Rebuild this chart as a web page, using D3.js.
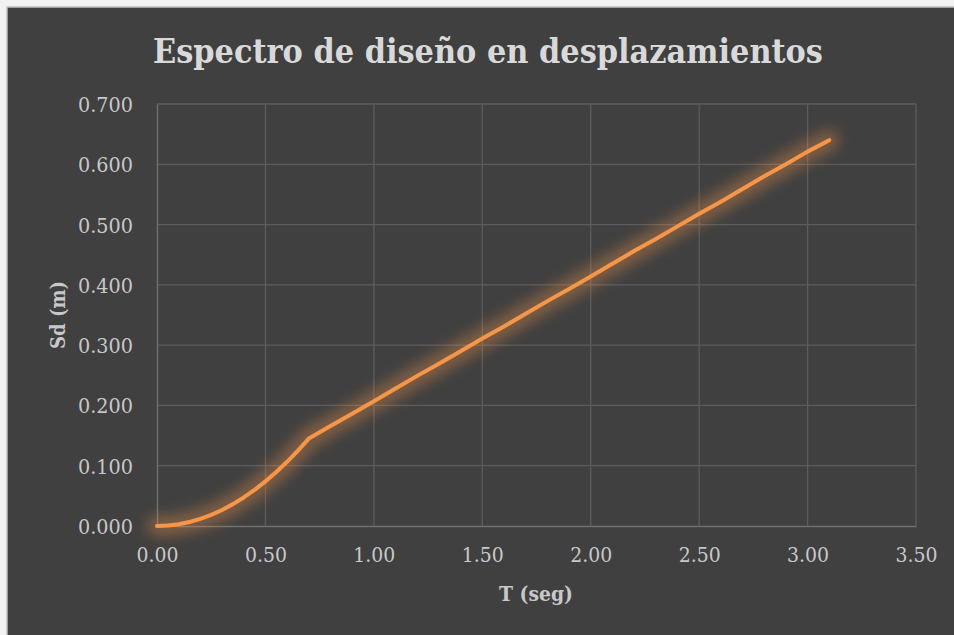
<!DOCTYPE html>
<html><head><meta charset="utf-8">
<script src="https://cdn.jsdelivr.net/npm/d3@7/dist/d3.min.js"></script>
<style>html,body{margin:0;padding:0;background:#f2f2f2;overflow:hidden}</style>
</head><body>
<svg id="c" width="954" height="635"></svg>
<script>
const titleText = "Espectro de diseño en desplazamientos";
const xLabel = "T (seg)";
const yLabel = "Sd (m)";
const xTicks = [0, 0.5, 1.0, 1.5, 2.0, 2.5, 3.0, 3.5];
const yTicks = [0, 0.1, 0.2, 0.3, 0.4, 0.5, 0.6, 0.7];
const periodT = [0, 0.05, 0.10, 0.15, 0.20, 0.25, 0.30, 0.35, 0.40, 0.45, 0.50, 0.55, 0.60, 0.65, 0.70,
  0.80, 0.90, 1.00, 1.10, 1.20, 1.30, 1.40, 1.50, 1.60, 1.70, 1.80, 1.90, 2.00,
  2.10, 2.20, 2.30, 2.40, 2.50, 2.60, 2.70, 2.80, 2.90, 3.00, 3.10];
const sd = [0, 0.0007, 0.0030, 0.0067, 0.0118, 0.0185, 0.0266, 0.0363, 0.0473, 0.0599, 0.0740, 0.0895, 0.1065, 0.1250, 0.1450,
  0.166, 0.186, 0.207, 0.228, 0.249, 0.269, 0.290, 0.311, 0.331, 0.352, 0.373, 0.393, 0.414,
  0.435, 0.456, 0.476, 0.497, 0.518, 0.538, 0.559, 0.580, 0.600, 0.621, 0.640];

const FONT = "'DejaVu Serif', 'Liberation Serif', serif";
const svg = d3.select("#c");
const W = 954, H = 635;
svg.append("rect").attr("x",0).attr("y",0).attr("width",W).attr("height",H).attr("fill","#f2f2f2");
svg.append("rect").attr("x",7).attr("y",7).attr("width",W+10).attr("height",H+10)
  .attr("fill","#404040").attr("stroke","#bfbfbf").attr("stroke-width",1.5);

const m = {l:157, r:916, t:104, b:526};
const x = d3.scaleLinear().domain([0,3.5]).range([m.l,m.r]);
const y = d3.scaleLinear().domain([0,0.7]).range([m.b,m.t]);

const defs = svg.append("defs");
const f = defs.append("filter").attr("id","glow").attr("x","-20%").attr("y","-20%").attr("width","140%").attr("height","140%");
f.append("feGaussianBlur").attr("stdDeviation",7);

// gridlines
const grid = svg.append("g");
grid.selectAll("line.v").data(xTicks.slice(1)).join("line")
  .attr("x1",d=>x(d)).attr("x2",d=>x(d)).attr("y1",m.t).attr("y2",m.b)
  .attr("stroke","#5c5c5c").attr("stroke-width",1.3);
grid.selectAll("line.h").data(yTicks.slice(1)).join("line")
  .attr("x1",m.l).attr("x2",m.r).attr("y1",d=>y(d)).attr("y2",d=>y(d))
  .attr("stroke","#5c5c5c").attr("stroke-width",1.3);

// axes
const xAxis = d3.axisBottom(x).tickValues(xTicks).tickFormat(d3.format(".2f")).tickSize(0).tickPadding(21);
const yAxis = d3.axisLeft(y).tickValues(yTicks).tickFormat(d3.format(".3f")).tickSize(0).tickPadding(24);
const gx = svg.append("g").attr("transform",`translate(0,${m.b})`).call(xAxis);
const gy = svg.append("g").attr("transform",`translate(${m.l},0)`).call(yAxis);
[gx,gy].forEach(g=>{
  g.select(".domain").attr("stroke","#6e6e6e").attr("stroke-width",1.5);
  g.selectAll("text").attr("fill","#c8c8c8").style("font-family",FONT).style("font-size","21px")
    .attr("lengthAdjust","spacingAndGlyphs");
});
gx.selectAll("text").attr("dy","0.71em").attr("textLength",42);
gy.selectAll("text").attr("dy","0.36em").attr("textLength",55);

// line
const line = d3.line().x((d,i)=>x(periodT[i])).y(d=>y(d));
svg.append("path").datum(sd).attr("d",line).attr("fill","none")
  .attr("stroke","#f79646").attr("stroke-opacity",0.36).attr("stroke-width",20)
  .attr("stroke-linecap","round").attr("filter","url(#glow)");
svg.append("path").datum(sd).attr("d",line).attr("fill","none")
  .attr("stroke","#f79646").attr("stroke-width",4).attr("stroke-linejoin","round").attr("stroke-linecap","round");

// title
svg.append("text").attr("x",488).attr("y",63).attr("text-anchor","middle")
  .attr("fill","#d9d9d9").style("font-family",FONT).style("font-weight","bold").style("font-size","33.5px")
  .attr("textLength",670).attr("lengthAdjust","spacingAndGlyphs").text(titleText);

svg.append("text").attr("x",536).attr("y",601).attr("text-anchor","middle")
  .attr("fill","#c8c8c8").style("font-family",FONT).style("font-weight","bold").style("font-size","21px")
  .attr("textLength",74).attr("lengthAdjust","spacingAndGlyphs").text(xLabel);

svg.append("text").attr("transform","translate(65,315) rotate(-90)").attr("text-anchor","middle")
  .attr("fill","#c8c8c8").style("font-family",FONT).style("font-weight","bold").style("font-size","21px")
  .attr("textLength",68).attr("lengthAdjust","spacingAndGlyphs").text(yLabel);
</script>
</body></html>
